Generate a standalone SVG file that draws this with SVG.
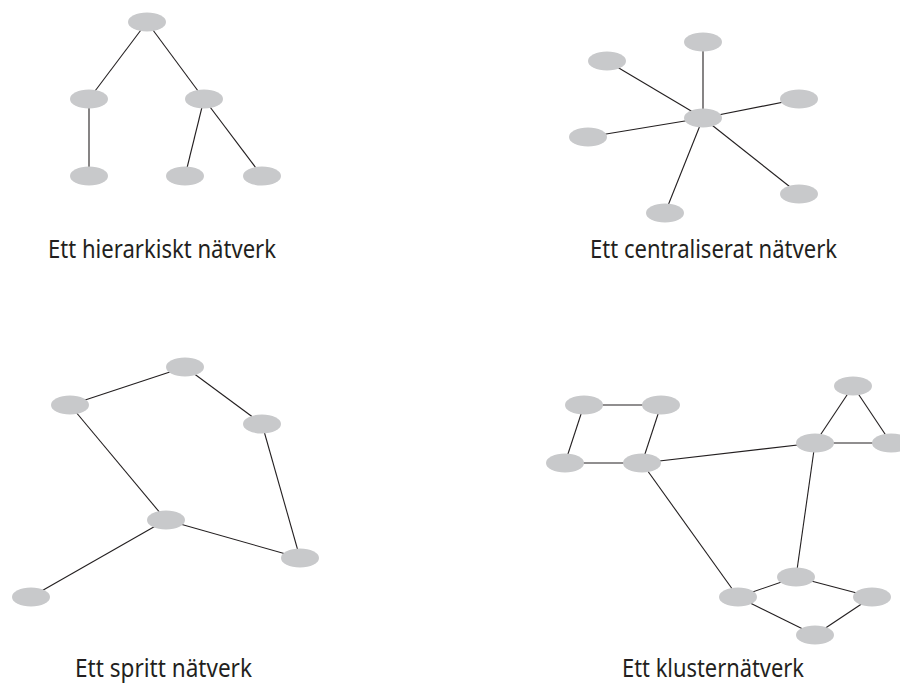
<svg xmlns="http://www.w3.org/2000/svg" width="900" height="684" viewBox="0 0 900 684">
<style>
.edge{stroke:#231f20;stroke-width:1.1;fill:none}
.node{fill:#c8c9cb;stroke:none}
.lbl{font-family:"Noto Sans","Open Sans","Liberation Sans",sans-serif;font-size:25px;fill:#231f20}
</style>
<rect width="900" height="684" fill="#ffffff"/>
<g id="connectors">
<line class="edge" x1="147" y1="22" x2="89" y2="99"/>
<line class="edge" x1="147" y1="22" x2="204" y2="99"/>
<line class="edge" x1="89" y1="99" x2="89" y2="176"/>
<line class="edge" x1="204" y1="99" x2="185" y2="176"/>
<line class="edge" x1="204" y1="99" x2="262" y2="176"/>
<line class="edge" x1="703" y1="118" x2="703" y2="42"/>
<line class="edge" x1="703" y1="118" x2="607" y2="61"/>
<line class="edge" x1="703" y1="118" x2="799" y2="99"/>
<line class="edge" x1="703" y1="118" x2="588" y2="137"/>
<line class="edge" x1="703" y1="118" x2="799" y2="194"/>
<line class="edge" x1="703" y1="118" x2="665" y2="213"/>
<line class="edge" x1="70" y1="405" x2="185" y2="367"/>
<line class="edge" x1="185" y1="367" x2="262" y2="424"/>
<line class="edge" x1="70" y1="405" x2="166" y2="520"/>
<line class="edge" x1="262" y1="424" x2="300" y2="558"/>
<line class="edge" x1="166" y1="520" x2="300" y2="558"/>
<line class="edge" x1="166" y1="520" x2="31" y2="597"/>
<line class="edge" x1="584" y1="405" x2="661" y2="405"/>
<line class="edge" x1="584" y1="405" x2="565" y2="463"/>
<line class="edge" x1="661" y1="405" x2="642" y2="463"/>
<line class="edge" x1="565" y1="463" x2="642" y2="463"/>
<line class="edge" x1="642" y1="463" x2="815" y2="443"/>
<line class="edge" x1="815" y1="443" x2="853" y2="386"/>
<line class="edge" x1="853" y1="386" x2="891" y2="443"/>
<line class="edge" x1="815" y1="443" x2="891" y2="443"/>
<line class="edge" x1="815" y1="443" x2="796" y2="577"/>
<line class="edge" x1="642" y1="463" x2="738" y2="597"/>
<line class="edge" x1="738" y1="597" x2="796" y2="577"/>
<line class="edge" x1="796" y1="577" x2="872" y2="597"/>
<line class="edge" x1="872" y1="597" x2="815" y2="635"/>
<line class="edge" x1="815" y1="635" x2="738" y2="597"/>
</g>
<g id="hierarchical">
<g id="h1"><ellipse class="node" cx="147" cy="22" rx="19" ry="9.5"/></g>
<g id="h2"><ellipse class="node" cx="89" cy="99" rx="19" ry="9.5"/></g>
<g id="h3"><ellipse class="node" cx="204" cy="99" rx="19" ry="9.5"/></g>
<g id="h4"><ellipse class="node" cx="89" cy="176" rx="19" ry="9.5"/></g>
<g id="h5"><ellipse class="node" cx="185" cy="176" rx="19" ry="9.5"/></g>
<g id="h6"><ellipse class="node" cx="262" cy="176" rx="19" ry="9.5"/></g>
<text class="lbl" x="48" y="258" textLength="228" lengthAdjust="spacingAndGlyphs">Ett hierarkiskt nätverk</text>
</g>
<g id="centralized">
<g id="c0"><ellipse class="node" cx="703" cy="118" rx="19" ry="9.5"/></g>
<g id="c1"><ellipse class="node" cx="703" cy="42" rx="19" ry="9.5"/></g>
<g id="c2"><ellipse class="node" cx="607" cy="61" rx="19" ry="9.5"/></g>
<g id="c3"><ellipse class="node" cx="799" cy="99" rx="19" ry="9.5"/></g>
<g id="c4"><ellipse class="node" cx="588" cy="137" rx="19" ry="9.5"/></g>
<g id="c5"><ellipse class="node" cx="799" cy="194" rx="19" ry="9.5"/></g>
<g id="c6"><ellipse class="node" cx="665" cy="213" rx="19" ry="9.5"/></g>
<text class="lbl" x="590" y="258" textLength="247" lengthAdjust="spacingAndGlyphs">Ett centraliserat nätverk</text>
</g>
<g id="sparse">
<g id="s1"><ellipse class="node" cx="185" cy="367" rx="19" ry="9.5"/></g>
<g id="s2"><ellipse class="node" cx="70" cy="405" rx="19" ry="9.5"/></g>
<g id="s3"><ellipse class="node" cx="262" cy="424" rx="19" ry="9.5"/></g>
<g id="s4"><ellipse class="node" cx="166" cy="520" rx="19" ry="9.5"/></g>
<g id="s5"><ellipse class="node" cx="300" cy="558" rx="19" ry="9.5"/></g>
<g id="s6"><ellipse class="node" cx="31" cy="597" rx="19" ry="9.5"/></g>
<text class="lbl" x="75" y="677" textLength="177" lengthAdjust="spacingAndGlyphs">Ett spritt nätverk</text>
</g>
<g id="cluster">
<g id="k1"><ellipse class="node" cx="584" cy="405" rx="19" ry="9.5"/></g>
<g id="k2"><ellipse class="node" cx="661" cy="405" rx="19" ry="9.5"/></g>
<g id="k3"><ellipse class="node" cx="565" cy="463" rx="19" ry="9.5"/></g>
<g id="k4"><ellipse class="node" cx="642" cy="463" rx="19" ry="9.5"/></g>
<g id="k5"><ellipse class="node" cx="815" cy="443" rx="19" ry="9.5"/></g>
<g id="k6"><ellipse class="node" cx="853" cy="386" rx="19" ry="9.5"/></g>
<g id="k7"><ellipse class="node" cx="891" cy="443" rx="19" ry="9.5"/></g>
<g id="k8"><ellipse class="node" cx="796" cy="577" rx="19" ry="9.5"/></g>
<g id="k9"><ellipse class="node" cx="738" cy="597" rx="19" ry="9.5"/></g>
<g id="k10"><ellipse class="node" cx="872" cy="597" rx="19" ry="9.5"/></g>
<g id="k11"><ellipse class="node" cx="815" cy="635" rx="19" ry="9.5"/></g>
<text class="lbl" x="622" y="677" textLength="182" lengthAdjust="spacingAndGlyphs">Ett klusternätverk</text>
</g>
</svg>
